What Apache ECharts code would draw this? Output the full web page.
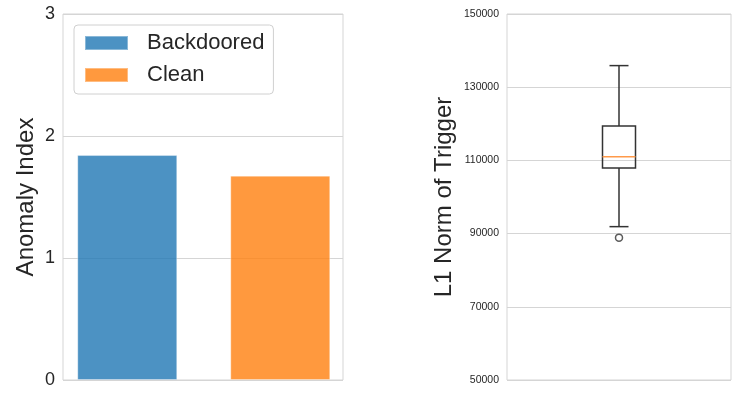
<!DOCTYPE html>
<html>
<head>
<meta charset="utf-8">
<script src="https://cdn.jsdelivr.net/npm/echarts@6/dist/echarts.min.js"></script>
<style>
html,body{margin:0;padding:0;background:#fff;}
#c{width:747px;height:399px;}
</style>
</head>
<body>
<div id="c"></div>
<script>
// ---- data ----
const barCategories = ['Backdoored', 'Clean'];
const barValues = [1.844, 1.675];
const leftTicks = [0, 1, 2, 3];
const boxStats = [91900, 107900, 111000, 119400, 135900]; // min, Q1, median, Q3, max
const boxOutliers = [88900];
const rightTicks = [50000, 70000, 90000, 110000, 130000, 150000];

const textColor = '#262626';
const gridColor = '#d5d5d5';
const font = 'Liberation Sans, Arial, sans-serif';

const chart = echarts.init(document.getElementById('c'), null, {renderer: 'canvas'});

const option = {
  animation: false,
  backgroundColor: '#fff',
  grid: [
    {left: 63, top: 14, width: 280, height: 366, show: true, borderColor: gridColor, borderWidth: 1, backgroundColor: 'transparent'},
    {left: 507, top: 14, width: 224, height: 366, show: true, borderColor: gridColor, borderWidth: 1, backgroundColor: 'transparent'}
  ],
  legend: {
    data: barCategories.map(n => ({name: n, icon: 'rect'})),
    orient: 'vertical',
    left: 74, top: 25,
    padding: [7, 9, 8, 10],
    itemWidth: 43, itemHeight: 14, itemGap: 10,
    backgroundColor: 'rgba(255,255,255,0.8)',
    borderColor: '#d0d0d0', borderWidth: 1, borderRadius: 4,
    textStyle: {fontFamily: font, fontSize: 22, color: textColor, padding: [0, 0, 0, 14]}
  },
  xAxis: [
    {type: 'value', gridIndex: 0, min: -0.42, max: 1.41, show: true,
     axisLine: {show: false}, axisTick: {show: false}, axisLabel: {show: false}, splitLine: {show: false}},
    {type: 'category', gridIndex: 1, data: ['1'], boundaryGap: true,
     axisLine: {show: false}, axisTick: {show: false}, axisLabel: {show: false}, splitLine: {show: false}}
  ],
  yAxis: [
    {type: 'value', gridIndex: 0, min: leftTicks[0], max: leftTicks[leftTicks.length - 1], interval: 1,
     name: 'Anomaly Index', nameLocation: 'middle', nameGap: 25,
     nameTextStyle: {fontFamily: font, fontSize: 24, color: textColor},
     axisLine: {show: false}, axisTick: {show: false},
     axisLabel: {fontFamily: font, fontSize: 18, color: textColor, margin: 8},
     splitLine: {show: true, lineStyle: {color: gridColor, width: 1}}},
    {type: 'value', gridIndex: 1, min: rightTicks[0], max: rightTicks[rightTicks.length - 1], interval: 20000,
     name: 'L1 Norm of Trigger', nameLocation: 'middle', nameGap: 51,
     nameTextStyle: {fontFamily: font, fontSize: 24, color: textColor},
     axisLine: {show: false}, axisTick: {show: false},
     axisLabel: {fontFamily: font, fontSize: 10.5, color: textColor, margin: 8, formatter: v => String(v)},
     splitLine: {show: true, lineStyle: {color: gridColor, width: 1}}}
  ],
  series: [
    {name: barCategories[0], type: 'bar', xAxisIndex: 0, yAxisIndex: 0,
     data: [[0, barValues[0]]], barWidth: 100, barGap: '-100%',
     itemStyle: {color: 'rgba(31,119,180,0.8)', borderColor: 'rgba(255,255,255,0.35)', borderWidth: 1}},
    {name: barCategories[1], type: 'bar', xAxisIndex: 0, yAxisIndex: 0,
     data: [[1, barValues[1]]], barWidth: 100, barGap: '-100%',
     itemStyle: {color: 'rgba(255,127,14,0.8)', borderColor: 'rgba(255,255,255,0.35)', borderWidth: 1}},
    {type: 'custom', xAxisIndex: 1, yAxisIndex: 1,
     data: [[0].concat(boxStats)],
     renderItem: function (params, api) {
       const x = api.coord([api.value(0), api.value(3)])[0];
       const yMin = api.coord([api.value(0), api.value(1)])[1];
       const yQ1 = api.coord([api.value(0), api.value(2)])[1];
       const yMed = api.coord([api.value(0), api.value(3)])[1];
       const yQ3 = api.coord([api.value(0), api.value(4)])[1];
       const yMax = api.coord([api.value(0), api.value(5)])[1];
       const hw = 16.5, cw = 9.5;
       const st = {stroke: '#333', lineWidth: 1.5, fill: null};
       return {type: 'group', children: [
         {type: 'line', shape: {x1: x, y1: yQ1, x2: x, y2: yMin}, style: st},
         {type: 'line', shape: {x1: x, y1: yQ3, x2: x, y2: yMax}, style: st},
         {type: 'line', shape: {x1: x - cw, y1: yMin, x2: x + cw, y2: yMin}, style: st},
         {type: 'line', shape: {x1: x - cw, y1: yMax, x2: x + cw, y2: yMax}, style: st},
         {type: 'rect', shape: {x: x - hw, y: yQ3, width: 2 * hw, height: yQ1 - yQ3}, style: {stroke: '#333', lineWidth: 1.5, fill: 'rgba(0,0,0,0)'}},
         {type: 'line', shape: {x1: x - hw, y1: yMed, x2: x + hw, y2: yMed}, style: {stroke: '#ff9a4a', lineWidth: 1.5}}
       ]};
     }},
    {type: 'scatter', xAxisIndex: 1, yAxisIndex: 1,
     data: boxOutliers.map(v => ['1', v]), symbol: 'circle', symbolSize: 7,
     itemStyle: {color: '#fff', borderColor: '#333', borderWidth: 1.5}}
  ]
};
chart.setOption(option);
</script>
</body>
</html>
